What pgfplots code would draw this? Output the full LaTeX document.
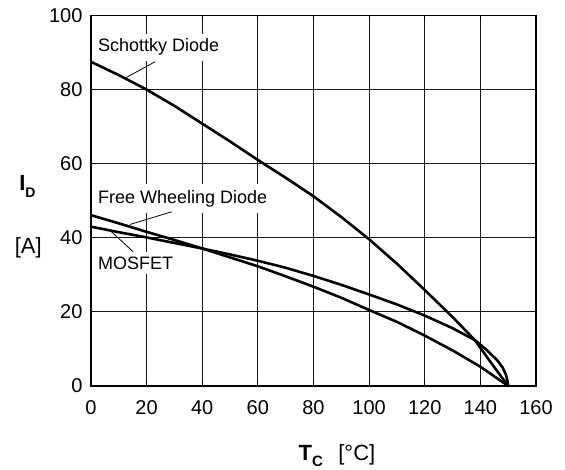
\documentclass[border=0pt]{standalone}
\usepackage{fontspec}
\setmainfont{Liberation Sans}
\usepackage{pgfplots}
\pgfplotsset{compat=1.18}
\begin{document}
\begin{tikzpicture}
\begin{axis}[
  scale only axis, width=445pt, height=370.5pt,
  xmin=0, xmax=160, ymin=0, ymax=100,
  xtick={0,20,...,160}, ytick={0,20,...,100},
  grid=major, major grid style={black!90, line width=0.9pt},
  axis line style={black, line width=1.3pt},
  tick style={black, line width=1pt}, tick align=inside, major tick length=5pt,
  ticklabel style={font=\fontsize{20}{24}\selectfont},
  /pgf/number format/assume math mode=true,
  xticklabel style={yshift=-11pt},
  yticklabel style={xshift=-5pt},
  clip=false,
]
% annotation labels (white background breaks grid lines)
\node[anchor=base west, fill=white, inner xsep=2pt, inner ysep=5pt, font=\fontsize{18}{21}\selectfont] at (axis cs:1.8,90.2) {Schottky Diode};
\node[anchor=base west, fill=white, inner xsep=2pt, inner ysep=6pt, font=\fontsize{18}{21}\selectfont] at (axis cs:1.8,49.3) {Free Wheeling Diode};
\node[anchor=base west, fill=white, inner xsep=2pt, inner ysep=5pt, font=\fontsize{18}{21}\selectfont] at (axis cs:1.8,31.5) {MOSFET};

% Schottky Diode
\addplot[black, line width=2.6pt, line join=round] coordinates {
(0,87.5)(10,83.9)(20,80.0)(30,75.6)(40,70.8)(50,66.0)(60,61.0)(70,56.2)(80,51.2)(90,45.6)(100,39.6)(110,33.0)(120,25.9)(130,18.6)(138,12.4)(144,6.1)(150,0)
};
% Free Wheeling Diode
\addplot[black, line width=2.6pt, line join=round] coordinates {
(0,46.1)(10,43.9)(20,41.6)(30,39.4)(40,37.1)(50,34.7)(60,32.3)(70,29.6)(80,26.8)(90,23.8)(100,20.5)(110,17.3)(120,13.6)(130,9.6)(140,5.2)(150,0)
};
% MOSFET
\addplot[black, line width=2.6pt, line join=round] coordinates {
(0,43.0)(10,41.5)(20,40.1)(30,38.6)(40,37.1)(50,35.5)(60,33.8)(70,31.9)(80,29.7)(90,27.3)(100,24.7)(110,22.0)(120,19.0)(130,15.6)(138,12.4)(142,9.9)(146,7.0)(148,5.0)(149.2,3.0)(149.8,1.2)(150,0)
};

% leader lines
\addplot[black, line width=0.8pt] coordinates {(12.2,83.05)(23.0,87.5)};
\addplot[black, line width=0.8pt] coordinates {(14.0,43.6)(29.0,47.0)};
\addplot[black, line width=0.8pt] coordinates {(7.4,41.6)(15.2,36.2)};

% axis labels
\node[anchor=base, font=\fontsize{22}{26}\selectfont] at (rel axis cs:0.5528,-0.2024)
  {\textbf{T}\raisebox{-6pt}{\fontsize{15}{17}\selectfont\textbf{C}}\hspace{0.7em}[°C]};
\node[anchor=base, font=\fontsize{22}{26}\selectfont] at (rel axis cs:-0.1427,0.527)
  {\textbf{I}\raisebox{-6.3pt}{\fontsize{14}{16}\selectfont\textbf{D}}};
\node[anchor=base, font=\fontsize{22}{26}\selectfont] at (rel axis cs:-0.1409,0.358) {[A]};

\coordinate (bl) at (rel axis cs:-0.2045,-0.2267);
\coordinate (tr) at (rel axis cs:1.0652,1.0418);
\end{axis}
\pgfresetboundingbox
\path (bl) rectangle (tr);
\end{tikzpicture}
\end{document}
